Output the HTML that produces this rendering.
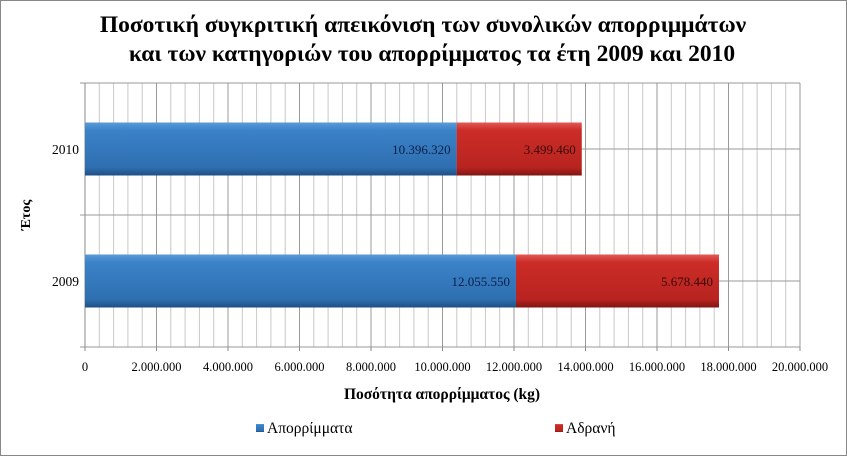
<!DOCTYPE html>
<html><head><meta charset="utf-8"><style>
body{margin:0;background:#fff;}
svg{display:block;font-family:"Liberation Serif",serif;}
</style></head><body>
<svg width="847" height="456">
<defs>
<linearGradient id="gb" x1="0" y1="0" x2="0" y2="1"><stop offset="0" stop-color="#5a9ad8"/><stop offset="0.15" stop-color="#3b82c8"/><stop offset="0.85" stop-color="#2e6fb0"/><stop offset="1" stop-color="#1f4f85"/></linearGradient>
<linearGradient id="gr" x1="0" y1="0" x2="0" y2="1"><stop offset="0" stop-color="#e05a55"/><stop offset="0.15" stop-color="#cc2c27"/><stop offset="0.85" stop-color="#b82420"/><stop offset="1" stop-color="#7f1513"/></linearGradient>
</defs>
<rect x="0.5" y="0.5" width="846" height="455" fill="#fff" stroke="#888"/>
<text x="423" y="32" text-anchor="middle" font-size="23.5" font-weight="bold">Ποσοτική συγκριτική απεικόνιση των συνολικών απορριμμάτων</text>
<text x="432" y="61" text-anchor="middle" font-size="23.5" font-weight="bold">και των κατηγοριών του απορρίμματος τα έτη 2009 και 2010</text>
<g id="grid"></g>
<g id="bars"></g>
<g id="labels"></g>
<text transform="translate(30,215) rotate(-90)" text-anchor="middle" font-size="14" font-weight="bold">Έτος</text>
<text x="442" y="399" text-anchor="middle" font-size="15.5" font-weight="bold">Ποσότητα απορρίμματος (kg)</text>
<g><rect x="256" y="424" width="8" height="8" fill="url(#gb)"/><text x="267" y="433" font-size="15.5">Απορρίμματα</text></g>
<g><rect x="555" y="424" width="8" height="8" fill="url(#gr)"/><text x="566" y="433" font-size="15.5">Αδρανή</text></g>
</svg>
<script>
const categories=["2009","2010"];
const seriesA=[12055550,10396320];
const seriesB=[5678440,3499460];
const tickLabels=["0","2.000.000","4.000.000","6.000.000","8.000.000","10.000.000","12.000.000","14.000.000","16.000.000","18.000.000","20.000.000"];
const xMax=20000000;
const NS="http://www.w3.org/2000/svg";
const L=85,R=800,T=83,B=347;
const x=v=>L+(R-L)*v/xMax;
const bandH=(B-T)/categories.length;
const yc=i=>B-bandH*(i+0.5);
function mk(tag,attrs,parent){const e=document.createElementNS(NS,tag);for(const k in attrs)e.setAttribute(k,attrs[k]);document.getElementById(parent).appendChild(e);return e;}
for(let i=0;i<=50;i++){const gx=x(xMax*i/50);
const l=mk('line',{x1:gx,x2:gx,y1:T,y2:B,stroke:i%5===0?'#999':'#c8c8c8','stroke-width':1},'grid');

}
mk('line',{x1:L-5,x2:R,y1:B,y2:B,stroke:'#888'},'grid');
mk('line',{x1:L,x2:L,y1:T,y2:B+4,stroke:'#888'},'grid');
for(let i=0;i<=categories.length;i++){const yy=T+bandH*i;mk('line',{x1:L-5,x2:R,y1:yy,y2:yy,stroke:'#999'},'grid');}
categories.forEach((c,i)=>{mk('line',{x1:L,x2:R,y1:yc(i),y2:yc(i),stroke:'#999'},'grid');});
tickLabels.forEach((t,i)=>{const gx=x(xMax*i/10);
mk('line',{x1:gx,x2:gx,y1:B,y2:B+4,stroke:'#888'},'grid');
const e=mk('text',{x:gx,y:371,'text-anchor':'middle','font-size':12.5},'labels');e.textContent=t;

});
const fmt=v=>v.toString().replace(/\B(?=(\d{3})+(?!\d))/g,'.');
const bh=53;
categories.forEach((c,i)=>{
const y0=yc(i)-bh/2;
const a=mk('rect',{x:x(0),y:y0,width:x(seriesA[i])-x(0),height:bh,fill:'url(#gb)'},'bars');


const b=mk('rect',{x:x(seriesA[i]),y:y0,width:x(seriesA[i]+seriesB[i])-x(seriesA[i]),height:bh,fill:'url(#gr)'},'bars');


const la=mk('text',{x:x(seriesA[i])-6,y:yc(i)+5,'text-anchor':'end','font-size':13,fill:'#0a1f4a'},'labels');la.textContent=fmt(seriesA[i]);


const lb=mk('text',{x:x(seriesA[i]+seriesB[i])-6,y:yc(i)+5,'text-anchor':'end','font-size':13,fill:'#3a0a0a'},'labels');lb.textContent=fmt(seriesB[i]);


const cl=mk('text',{x:L-6,y:yc(i)+5,'text-anchor':'end','font-size':13.5},'labels');cl.textContent=c;


});
</script>
</body></html>
